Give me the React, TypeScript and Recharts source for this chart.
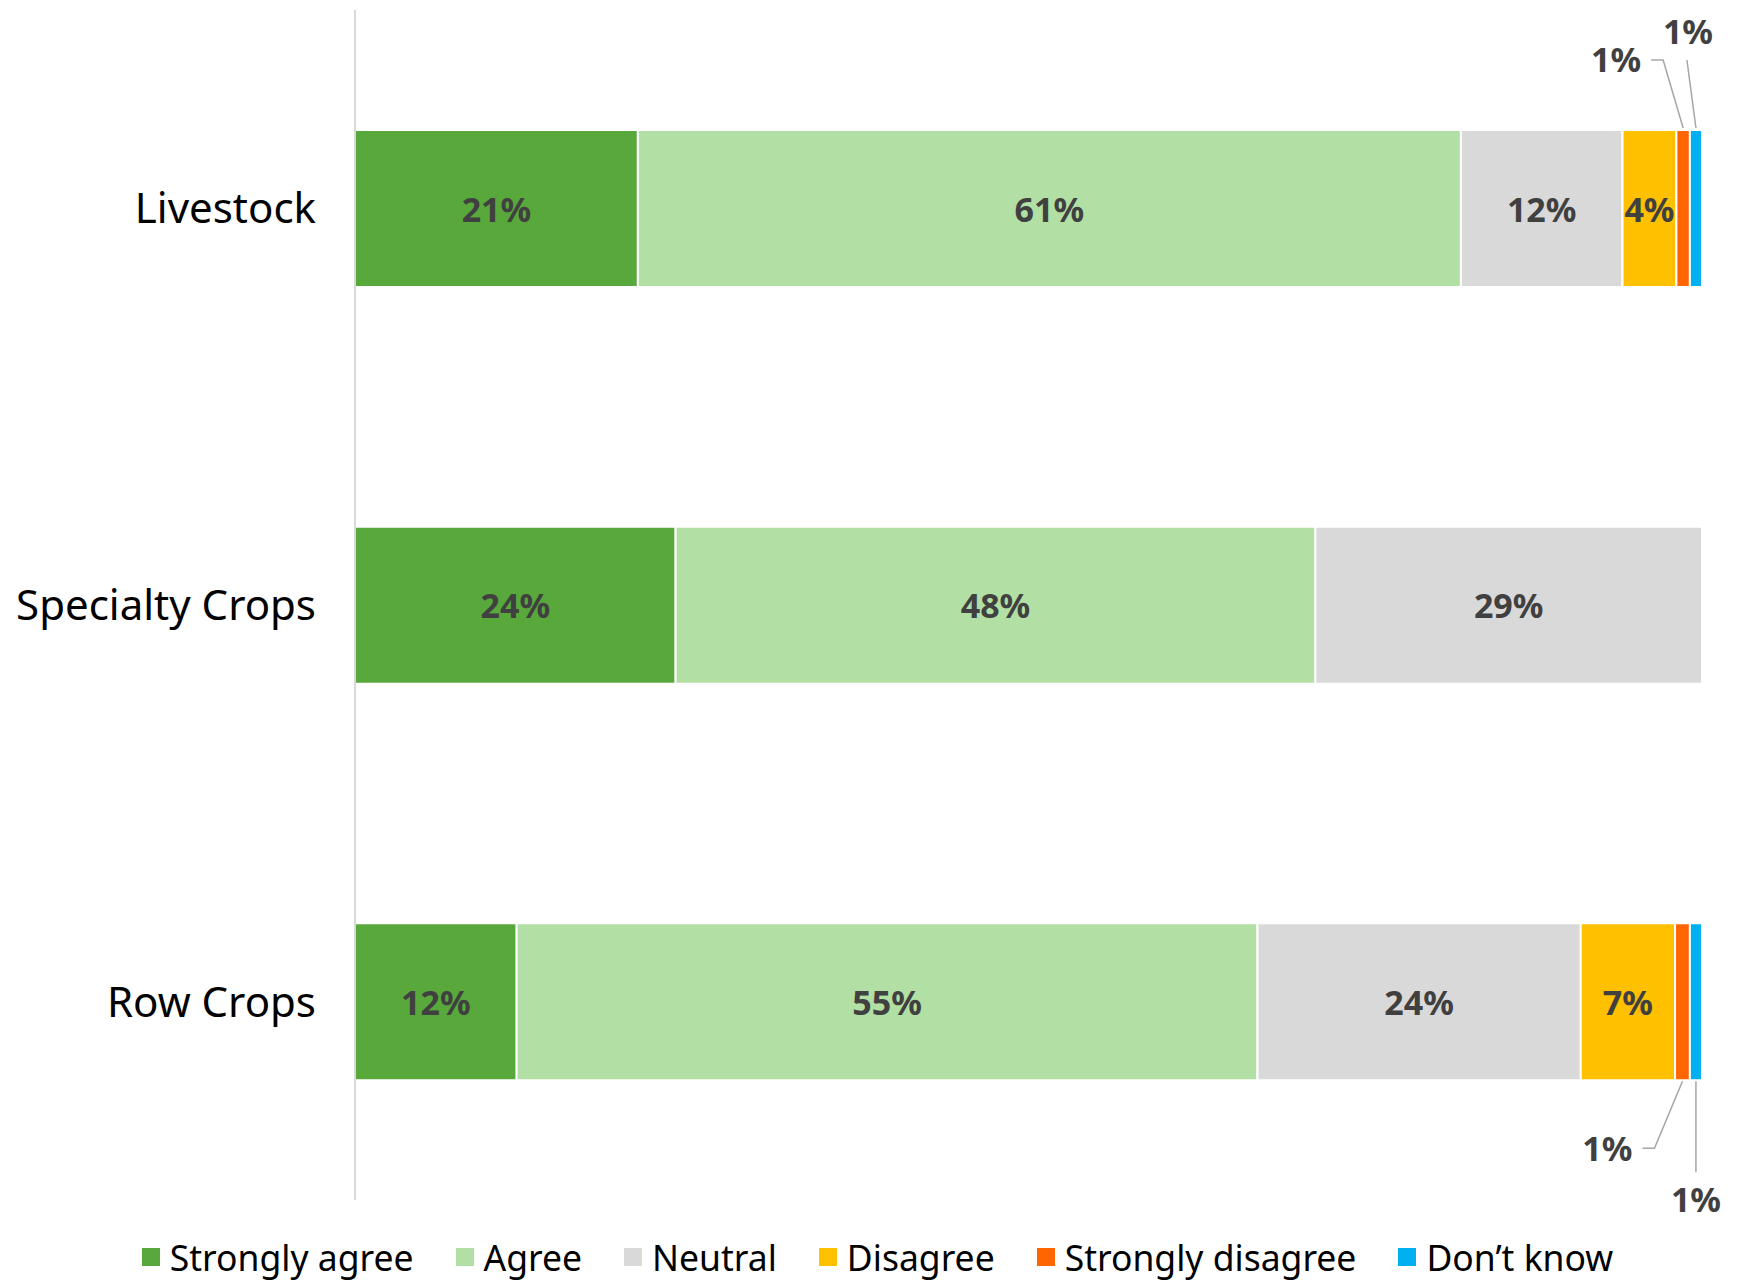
import React from "react"
import { BarChart, Bar, XAxis, YAxis, Legend, LabelList } from "recharts"

const categories = ["Livestock", "Specialty Crops", "Row Crops"]

const stronglyAgree = [21.0, 23.8, 12.0]
const agree = [61.1, 47.5, 55.0]
const neutral = [12.0, 28.7, 24.0]
const disagree = [4.0, 0, 7.0]
const stronglyDisagree = [1.0, 0, 1.1]
const dontKnow = [0.9, 0, 0.9]

const seriesInfo = [
  { key: "sa", name: "Strongly agree", color: "#58A83C", values: stronglyAgree },
  { key: "a", name: "Agree", color: "#B2DFA3", values: agree },
  { key: "n", name: "Neutral", color: "#D9D9D9", values: neutral },
  { key: "d", name: "Disagree", color: "#FFC000", values: disagree },
  { key: "sd", name: "Strongly disagree", color: "#FF6600", values: stronglyDisagree },
  { key: "dk", name: "Don\u2019t know", color: "#00B0F0", values: dontKnow },
]

const rows = categories.map((cat, i) => {
  const row: Record<string, any> = { cat }
  seriesInfo.forEach((s) => {
    row[s.key] = s.values[i]
  })
  return row
})

const LABEL_FONT = "'Noto Sans', sans-serif"
const LEADER = "#A6A6A6"

function box(props: any) {
  const vb = props.viewBox && props.viewBox.width != null ? props.viewBox : props
  return { x: Number(vb.x), y: Number(vb.y), w: Number(vb.width), h: Number(vb.height) }
}

// value label centred in the segment
function InsideLabel(props: any) {
  const { value } = props
  if (!value || value < 3) return null
  const { x, y, w, h } = box(props)
  return (
    <text
      x={x + w / 2}
      y={y + h / 2}
      textAnchor="middle"
      dominantBaseline="central"
      fontFamily={LABEL_FONT}
      fontWeight={700}
      fontSize={34}
      fill="#404040"
    >
      {Math.round(value)}%
    </text>
  )
}

// small slices get a label outside with a leader line
function makeCallout(kind: "sd" | "dk") {
  return function Callout(props: any) {
    const { value, index } = props
    if (!value || value <= 0) return null
    const { x, y, w, h } = box(props)
    const cx = x + w / 2
    const above = index === 0
    const txt = `${Math.round(value)}%`
    const common = {
      fontFamily: LABEL_FONT,
      fontWeight: 700,
      fontSize: 34,
      fill: "#404040",
    }
    if (above) {
      const top = y - 2
      if (kind === "sd") {
        return (
          <g>
            <polyline
              points={`${cx},${top} ${cx - 20},${y - 70} ${cx - 32},${y - 70}`}
              fill="none"
              stroke={LEADER}
              strokeWidth={1.5}
            />
            <text x={cx - 42} y={y - 58} textAnchor="end" {...common}>{txt}</text>
          </g>
        )
      }
      return (
        <g>
          <polyline
            points={`${cx},${top} ${cx - 9},${y - 70}`}
            fill="none"
            stroke={LEADER}
            strokeWidth={1.5}
          />
          <text x={cx - 8} y={y - 86} textAnchor="middle" {...common}>{txt}</text>
        </g>
      )
    }
    const bottom = y + h + 1
    if (kind === "sd") {
      return (
        <g>
          <polyline
            points={`${cx},${bottom} ${cx - 28},${bottom + 67} ${cx - 40},${bottom + 67}`}
            fill="none"
            stroke={LEADER}
            strokeWidth={1.5}
          />
          <text x={cx - 50} y={bottom + 80} textAnchor="end" {...common}>{txt}</text>
        </g>
      )
    }
    return (
      <g>
        <polyline
          points={`${cx},${bottom} ${cx},${bottom + 91}`}
          fill="none"
          stroke={LEADER}
          strokeWidth={1.5}
        />
        <text x={cx} y={bottom + 131} textAnchor="middle" {...common}>{txt}</text>
      </g>
    )
  }
}

const SdCallout = makeCallout("sd")
const DkCallout = makeCallout("dk")

function LegendBox() {
  return (
    <div
      style={{
        height: 46,
        display: "flex",
        justifyContent: "center",
        alignItems: "center",
        fontFamily: LABEL_FONT,
        fontSize: 35.5,
        color: "#000",
      }}
    >
      {seriesInfo.map((s, i) => (
        <div
          key={s.key}
          style={{ display: "flex", alignItems: "center", marginLeft: i === 0 ? 0 : 42 }}
        >
          <span style={{ width: 18, height: 18, background: s.color, marginRight: 10, display: "inline-block" }} />
          <span>{s.name}</span>
        </div>
      ))}
    </div>
  )
}

export default function App() {
  return (
    <div style={{ position: "absolute", left: 0, top: 0, width: 1755, height: 1280, background: "#fff" }}>
      <BarChart
        width={1755}
        height={1280}
        data={rows}
        layout="vertical"
        margin={{ top: 10, right: 53, bottom: 34, left: 0 }}
        barCategoryGap={120}
      >
        <XAxis type="number" domain={[0, 100]} hide />
        <YAxis
          type="category"
          dataKey="cat"
          width={355}
          axisLine={{ stroke: "#D9D9D9", strokeWidth: 2 }}
          tickLine={false}
          tickSize={0}
          tickMargin={39}
          tick={{ fontFamily: LABEL_FONT, fontSize: 42, fill: "#000" }}
        />
        <Legend verticalAlign="bottom" content={<LegendBox />} wrapperStyle={{ bottom: 0, left: 0, width: 1755 }} />
        {seriesInfo.map((s) => (
          <Bar
            key={s.key}
            dataKey={s.key}
            name={s.name}
            stackId="all"
            fill={s.color}
            stroke="#fff"
            strokeWidth={2}
            barSize={157}
            isAnimationActive={false}
          >
            {s.key === "sd" ? (
              <LabelList dataKey={s.key} content={<SdCallout />} />
            ) : s.key === "dk" ? (
              <LabelList dataKey={s.key} content={<DkCallout />} />
            ) : (
              <LabelList dataKey={s.key} content={<InsideLabel />} />
            )}
          </Bar>
        ))}
      </BarChart>
    </div>
  )
}
